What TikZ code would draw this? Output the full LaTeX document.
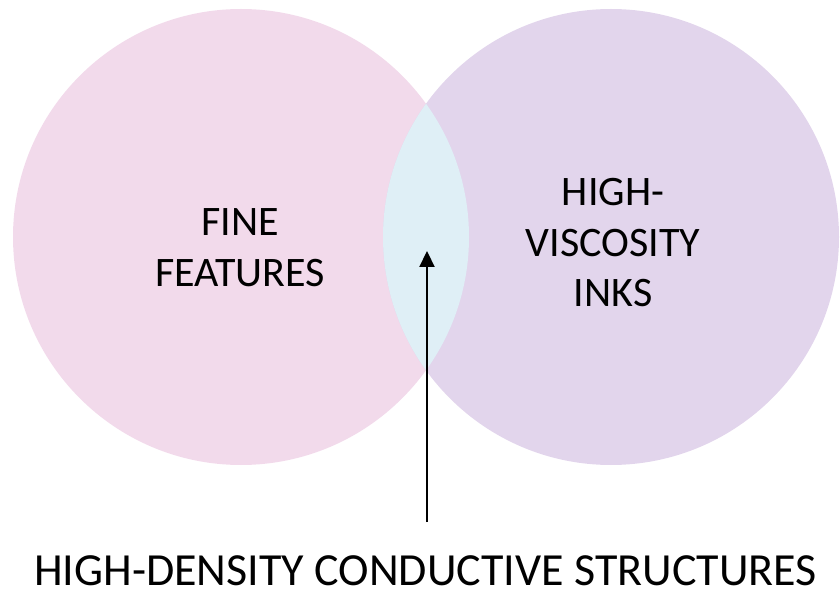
\documentclass[tikz,border=0pt]{standalone}
\usepackage{fontspec}
\setmainfont{Carlito}
\usetikzlibrary{arrows.meta}
\definecolor{finepink}{HTML}{F2DAEB}
\definecolor{inkviolet}{HTML}{E2D5EC}
\definecolor{lensblue}{HTML}{DFEFF6}
\begin{document}
\begin{tikzpicture}[x=1pt, y=-1pt]
          \useasboundingbox (0,0) rectangle (840,593);
          \coordinate (fine) at (241,237);
          \coordinate (ink) at (611,237);
          \fill [finepink] (fine) circle [radius=228pt];
          \fill [inkviolet] (ink) circle [radius=228pt];
          \begin{scope}
            \clip (fine) circle [radius=228pt];
            \fill [lensblue] (ink) circle [radius=228pt];
          \end{scope}
          \node [align=center, inner sep=0, font=\fontsize{42}{50.5}\selectfont] (finelabel) at (240,247.5) {FINE\\FEATURES};
          \node [align=center, inner sep=0, font=\fontsize{42}{50.5}\selectfont] (inklabel) at (613,243) {HIGH-\\VISCOSITY\\INKS};
          \node [anchor=base west, inner sep=0, font=\fontsize{46}{50}\selectfont] (result) at (34,585) {HIGH-DENSITY CONDUCTIVE STRUCTURES};
          \coordinate (tail) at (427,522);
          \coordinate (tip) at (427,251);
          \draw [line width=2.2pt, -{Triangle[length=16pt,width=15pt]}] (tail) -- (tip);
        \end{tikzpicture}
\end{document}
